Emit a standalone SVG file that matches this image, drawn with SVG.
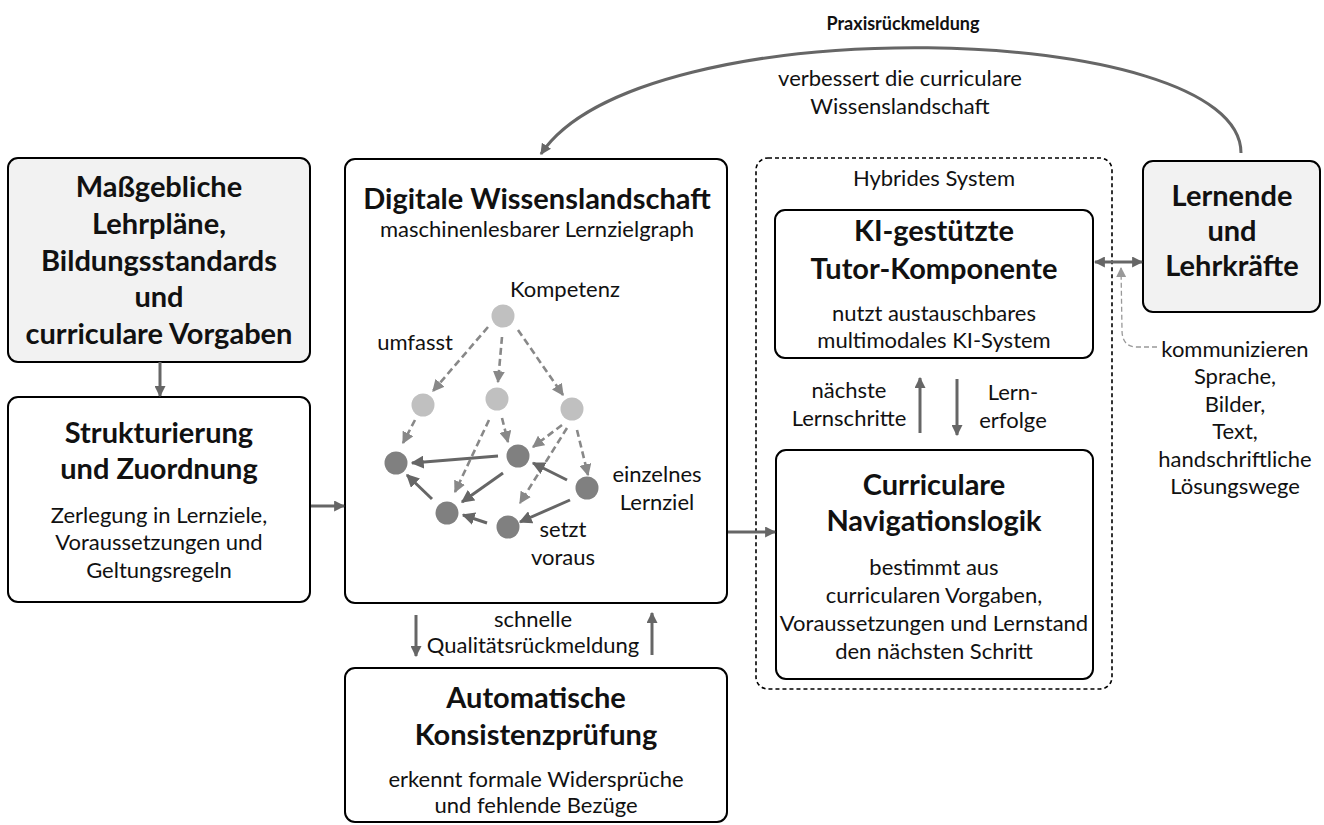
<svg xmlns="http://www.w3.org/2000/svg" width="1324" height="825" viewBox="0 0 1324 825">
<defs>
<style>
.box{fill:#fff;stroke:#000;stroke-width:2}
.gbox{fill:#f2f2f2;stroke:#000;stroke-width:2}
.dash{fill:none;stroke:#000;stroke-width:1.6;stroke-dasharray:4 3}
text{font-family:Lato,"Liberation Sans",sans-serif;fill:#111;text-anchor:middle}
.t{font-size:29px;font-weight:700}
.s{font-size:22px}
.p{font-size:18px;font-weight:700}
.c{fill:none;stroke:#666;stroke-width:3}
.ge{fill:none;stroke:#888;stroke-width:2.6;stroke-dasharray:7 4}
.gs{fill:none;stroke:#666;stroke-width:3}
.lt{fill:#c0c0c0}
.dk{fill:#808080}
</style>
<marker id="ah" viewBox="0 0 10 10" refX="9" refY="5" markerWidth="11" markerHeight="11" markerUnits="userSpaceOnUse" orient="auto-start-reverse"><path d="M0,0 L10,5 L0,10 z" fill="#666"/></marker>
<marker id="ahg" viewBox="0 0 10 10" refX="9" refY="5" markerWidth="12" markerHeight="12" markerUnits="userSpaceOnUse" orient="auto"><path d="M0,0 L10,5 L0,10 z" fill="#888"/></marker>
<marker id="ahs" viewBox="0 0 10 10" refX="9" refY="5" markerWidth="13" markerHeight="13" markerUnits="userSpaceOnUse" orient="auto"><path d="M0,0 L10,5 L0,10 z" fill="#666"/></marker>
<marker id="ahl" viewBox="0 0 10 10" refX="9" refY="5" markerWidth="10" markerHeight="10" markerUnits="userSpaceOnUse" orient="auto"><path d="M0,0 L10,5 L0,10 z" fill="#999"/></marker>
</defs>

<g id="hybrides-system">
<rect class="dash" x="756" y="158" width="356" height="531" rx="12"/>
<text class="s" x="934" y="186">Hybrides System</text>
</g>

<g id="lehrplaene">
<rect class="gbox" x="8" y="158" width="302" height="204" rx="10"/>
<text class="t" x="159" y="197">Maßgebliche</text>
<text class="t" x="159" y="234">Lehrpläne,</text>
<text class="t" x="159" y="271">Bildungsstandards</text>
<text class="t" x="159" y="307">und</text>
<text class="t" x="159" y="344">curriculare Vorgaben</text>
</g>

<g id="strukturierung">
<rect class="box" x="8" y="397" width="302" height="205" rx="10"/>
<text class="t" x="159" y="443">Strukturierung</text>
<text class="t" x="159" y="479">und Zuordnung</text>
<text class="s" x="159" y="523">Zerlegung in Lernziele,</text>
<text class="s" x="159" y="550">Voraussetzungen und</text>
<text class="s" x="159" y="578">Geltungsregeln</text>
</g>

<g id="wissenslandschaft">
<rect class="box" x="345" y="159" width="382" height="444" rx="10"/>
<text class="t" x="537" y="209">Digitale Wissenslandschaft</text>
<text class="s" x="537" y="237">maschinenlesbarer Lernzielgraph</text>
<g id="lernzielgraph">
<path class="ge" marker-end="url(#ahg)" d="M488,327 L433,391"/>
<path class="ge" marker-end="url(#ahg)" d="M502,337 L498,382"/>
<path class="ge" marker-end="url(#ahg)" d="M518,330 L563,395"/>
<path class="ge" marker-end="url(#ahg)" d="M415,420 L403,443"/>
<path class="ge" marker-end="url(#ahg)" d="M489,420 L455,492"/>
<path class="ge" marker-end="url(#ahg)" d="M502,418 L508,442"/>
<path class="ge" marker-end="url(#ahg)" d="M562,425 L533,447"/>
<path class="ge" marker-end="url(#ahg)" d="M567,428 L520,503"/>
<path class="ge" marker-end="url(#ahg)" d="M577,430 L588,475"/>
<path class="gs" marker-end="url(#ahs)" d="M498,456 L412,463"/>
<path class="gs" marker-end="url(#ahs)" d="M432,499 L407,475"/>
<path class="gs" marker-end="url(#ahs)" d="M503,473 L462,502"/>
<path class="gs" marker-end="url(#ahs)" d="M567,480 L533,463"/>
<path class="gs" marker-end="url(#ahs)" d="M487,523 L463,515"/>
<path class="gs" marker-end="url(#ahs)" d="M570,500 L520,522"/>
<circle class="lt" cx="503" cy="316" r="11.5"/>
<circle class="lt" cx="423" cy="405" r="11.5"/>
<circle class="lt" cx="497" cy="399" r="11.5"/>
<circle class="lt" cx="572" cy="409" r="11.5"/>
<circle class="dk" cx="396" cy="463" r="11.5"/>
<circle class="dk" cx="518" cy="456" r="11.5"/>
<circle class="dk" cx="587" cy="488" r="11.5"/>
<circle class="dk" cx="447" cy="513" r="11.5"/>
<circle class="dk" cx="508" cy="527" r="11.5"/>
<text class="s" x="565" y="297">Kompetenz</text>
<text class="s" x="415" y="350">umfasst</text>
<text class="s" x="657" y="482">einzelnes</text>
<text class="s" x="657" y="510">Lernziel</text>
<text class="s" x="563" y="537">setzt</text>
<text class="s" x="563" y="565">voraus</text>
</g>
</g>

<g id="konsistenzpruefung">
<rect class="box" x="345" y="668" width="382" height="154" rx="10"/>
<text class="t" x="536" y="708">Automatische</text>
<text class="t" x="536" y="745">Konsistenzprüfung</text>
<text class="s" x="536" y="787">erkennt formale Widersprüche</text>
<text class="s" x="536" y="813">und fehlende Bezüge</text>
</g>

<g id="tutor">
<rect class="box" x="775" y="210" width="318" height="148" rx="10"/>
<text class="t" x="934" y="241">KI-gestützte</text>
<text class="t" x="934" y="279">Tutor-Komponente</text>
<text class="s" x="934" y="321">nutzt austauschbares</text>
<text class="s" x="934" y="348">multimodales KI-System</text>
</g>

<g id="navigationslogik">
<rect class="box" x="776" y="450" width="317" height="229" rx="10"/>
<text class="t" x="934" y="495">Curriculare</text>
<text class="t" x="934" y="531">Navigationslogik</text>
<text class="s" x="934" y="575">bestimmt aus</text>
<text class="s" x="934" y="603">curricularen Vorgaben,</text>
<text class="s" x="934" y="631">Voraussetzungen und Lernstand</text>
<text class="s" x="934" y="659">den nächsten Schritt</text>
</g>

<g id="lernende">
<rect class="gbox" x="1143" y="161" width="177" height="151" rx="10"/>
<text class="t" x="1232" y="206">Lernende</text>
<text class="t" x="1232" y="241">und</text>
<text class="t" x="1232" y="276">Lehrkräfte</text>
</g>

<g id="connectors">
<path class="c" marker-end="url(#ah)" d="M160,362 L160,396"/>
<path class="c" marker-end="url(#ah)" d="M311,506 L344,506"/>
<path class="c" marker-end="url(#ah)" d="M728,532 L775,532"/>
<path class="c" marker-end="url(#ah)" d="M416,615 L416,656"/>
<path class="c" marker-end="url(#ah)" d="M652,655 L652,613"/>
<path class="c" marker-end="url(#ah)" d="M920,433 L920,378"/>
<path class="c" marker-end="url(#ah)" d="M957,379 L957,435"/>
<path class="c" marker-start="url(#ah)" marker-end="url(#ah)" d="M1095,262 L1142,262"/>
<path class="c" marker-end="url(#ah)" d="M1241,153 C1241,20 640,5 541,154"/>
<path fill="none" stroke="#999" stroke-width="1.3" stroke-dasharray="5 3" marker-end="url(#ahl)" d="M1157,347 L1137,347 Q1122,347 1122,330 L1121,268"/>
<text class="p" x="903" y="30">Praxisrückmeldung</text>
<text class="s" x="900" y="86">verbessert die curriculare</text>
<text class="s" x="900" y="114">Wissenslandschaft</text>
<text class="s" x="533" y="627">schnelle</text>
<text class="s" x="533" y="653">Qualitätsrückmeldung</text>
<text class="s" x="849" y="398">nächste</text>
<text class="s" x="849" y="426">Lernschritte</text>
<text class="s" x="1013" y="400">Lern-</text>
<text class="s" x="1013" y="428">erfolge</text>
<text class="s" x="1235" y="357">kommunizieren</text>
<text class="s" x="1235" y="384">Sprache,</text>
<text class="s" x="1235" y="412">Bilder,</text>
<text class="s" x="1235" y="439">Text,</text>
<text class="s" x="1235" y="467">handschriftliche</text>
<text class="s" x="1235" y="494">Lösungswege</text>
</g>
</svg>
